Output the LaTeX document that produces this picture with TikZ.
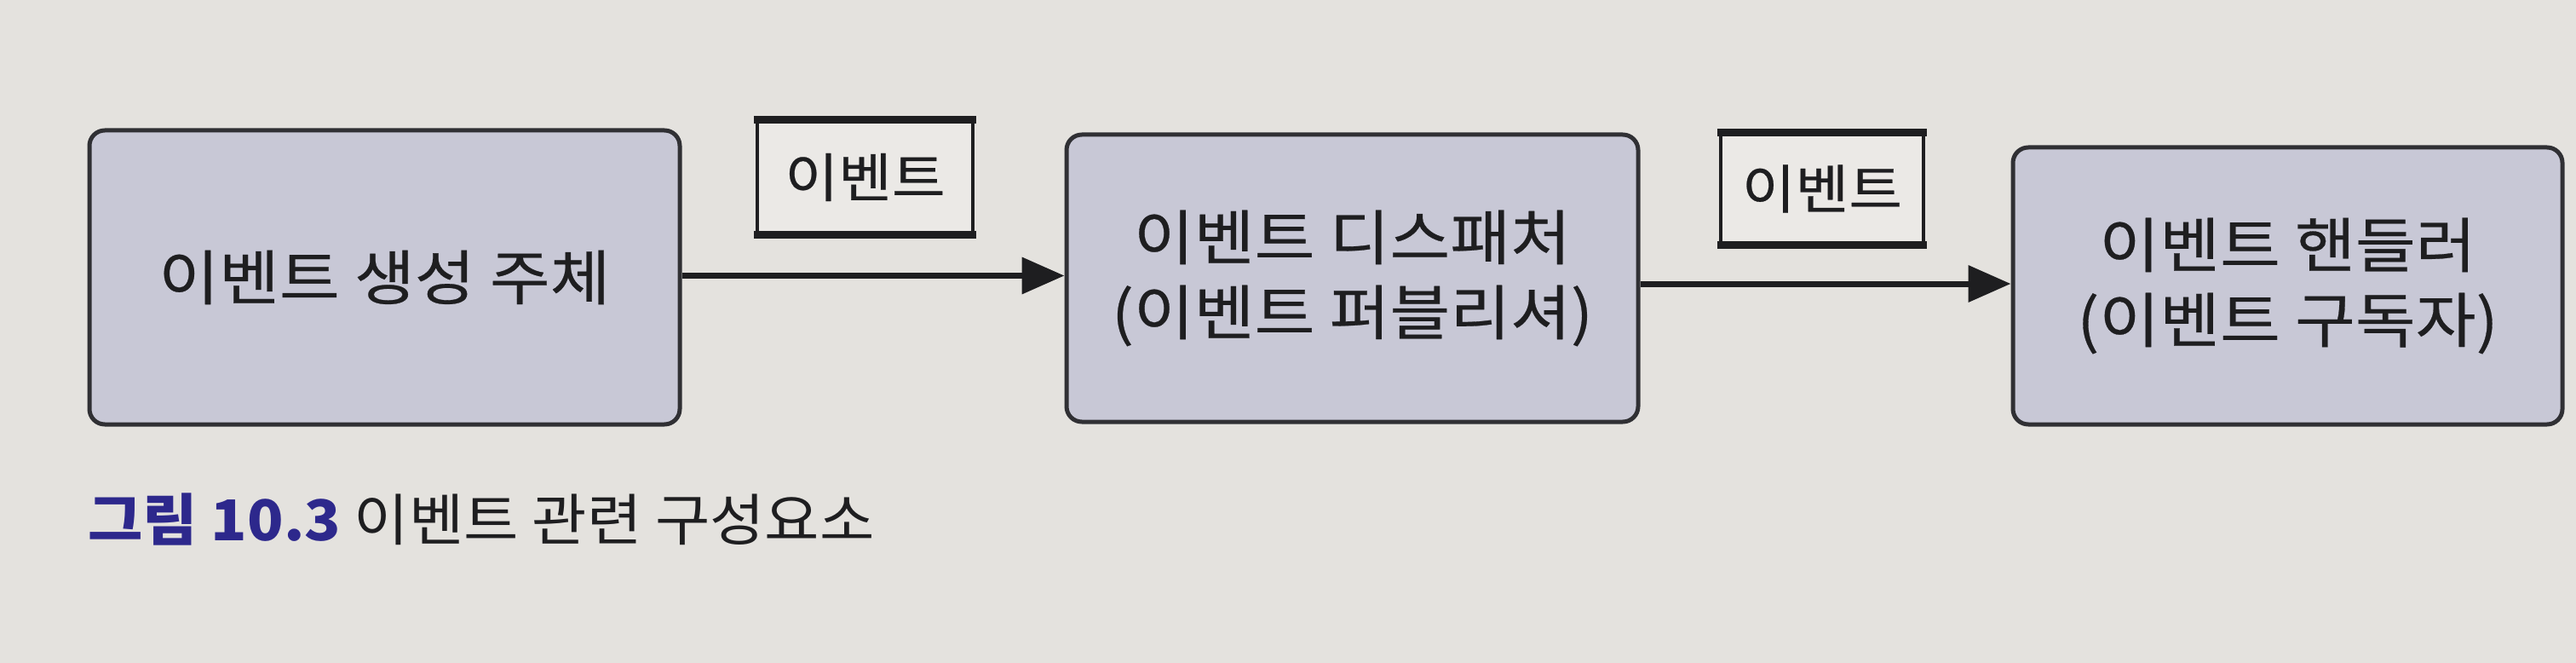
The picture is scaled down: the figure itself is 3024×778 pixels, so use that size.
\documentclass[tikz,border=0pt]{standalone}
\usepackage{fontspec}
\newfontfamily\kr[FakeStretch=1.1,FakeBold=0.4]{Noto Sans CJK KR}
\newfontfamily\krcap[FakeStretch=1.06]{Noto Sans CJK KR}
\usetikzlibrary{arrows.meta}
\definecolor{paper}{RGB}{228,226,222}
\definecolor{boxfill}{RGB}{200,200,214}
\definecolor{edge}{RGB}{48,48,52}
\definecolor{ink}{RGB}{30,30,32}
\definecolor{capblue}{RGB}{45,40,140}
\tikzset{
  mainbox/.style={draw=edge, line width=5pt, fill=boxfill, rounded corners=18pt,
    align=center, text=ink, inner sep=0pt, font=\kr\fontsize{70}{88}\selectfont},
  labelbox/.style={draw=ink, line width=4.5pt, fill=paper!75!white, inner sep=0pt,
    text=ink, font=\kr\fontsize{62}{70}\selectfont},
  labeledge/.style={draw=ink, line width=9pt},
  flow/.style={draw=ink, line width=7pt, -{Triangle[length=50pt,width=42pt]}}
}
\begin{document}
\begin{tikzpicture}[x=1pt,y=-1pt]
\fill[paper] (0,0) rectangle (3024,778);
\useasboundingbox (0,0) rectangle (3024,778);

\node[mainbox, minimum width=693pt, minimum height=345pt] (src) at (451.5,325.5) {이벤트 생성 주체};
\node[mainbox, minimum width=671pt, minimum height=337pt] (disp) at (1587.5,326.5) {이벤트 디스패처\\(이벤트 퍼블리셔)};
\node[mainbox, minimum width=645pt, minimum height=325pt] (hand) at (2685.5,335.5) {이벤트 핸들러\\(이벤트 구독자)};

\node[labelbox, minimum width=253pt, minimum height=130pt] (lab1) at (1015.5,208) {이벤트};
\node[labelbox, minimum width=238pt, minimum height=127pt] (lab2) at (2139,221.5) {이벤트};
\draw[labeledge] ([xshift=-2pt]lab1.north west) -- ([xshift=2pt]lab1.north east);
\draw[labeledge] ([xshift=-2pt]lab1.south west) -- ([xshift=2pt]lab1.south east);
\draw[labeledge] ([xshift=-2pt]lab2.north west) -- ([xshift=2pt]lab2.north east);
\draw[labeledge] ([xshift=-2pt]lab2.south west) -- ([xshift=2pt]lab2.south east);

\draw[flow] ([yshift=2pt]src.east) -- ([yshift=2pt]src.east -| disp.west);
\draw[flow] ([yshift=-6.5pt]disp.east) -- ([yshift=-6.5pt]disp.east -| hand.west);

\node[anchor=base west, inner sep=0pt, text=ink, font=\krcap\fontsize{66}{72}\selectfont] (cap) at (103,634)
  {{\bfseries\color{capblue}그림 10.3} 이벤트 관련 구성요소};
\end{tikzpicture}
\end{document}
